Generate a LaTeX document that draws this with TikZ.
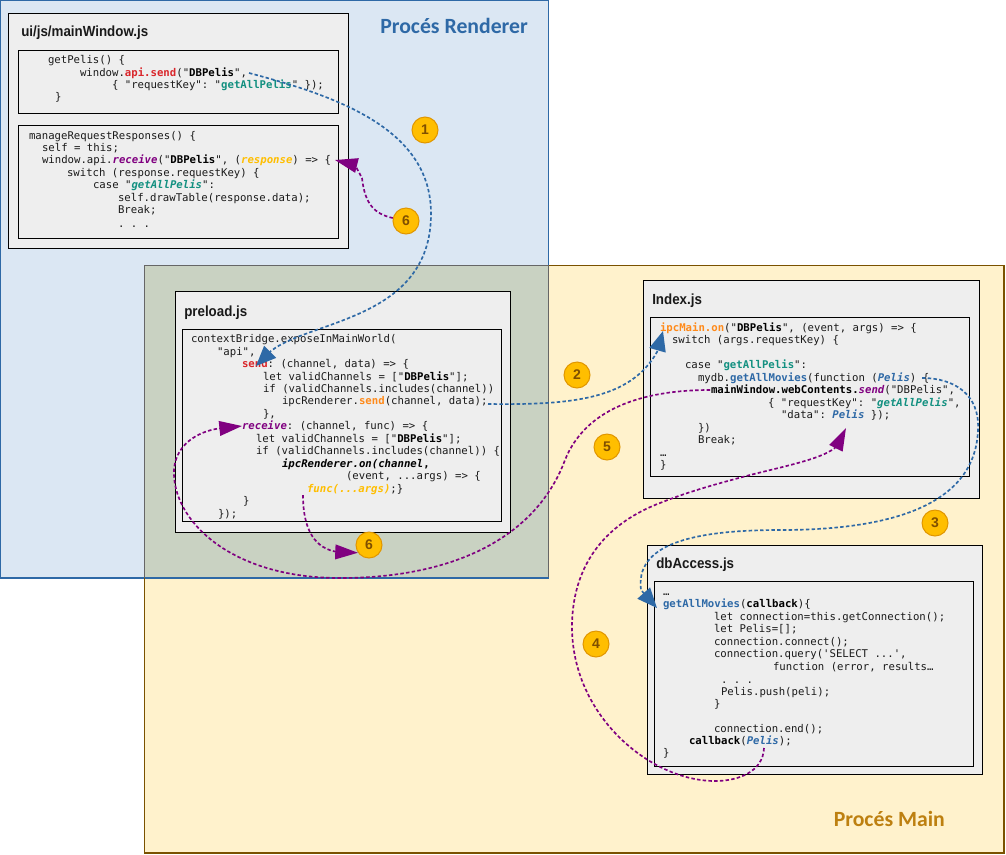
\documentclass[tikz,border=0pt]{standalone}
\usepackage{fontspec}
\usetikzlibrary{arrows.meta}
\setmonofont{DejaVu Sans Mono}
\setmainfont{Liberation Sans}
\newfontfamily\regionfont{Carlito}
\newfontfamily\titlefont[FakeStretch=0.91]{Liberation Sans}
\definecolor{cred}{HTML}{D9262B}
\definecolor{cteal}{HTML}{129080}
\definecolor{cpurp}{HTML}{800080}
\definecolor{corng}{HTML}{FF8A1A}
\definecolor{cyell}{HTML}{FFBE00}
\definecolor{cblue}{HTML}{2E69A6}
\definecolor{codetxt}{HTML}{1A1A1A}
\definecolor{rfill}{HTML}{DBE7F3}
\definecolor{mfill}{HTML}{FFF2CC}
\definecolor{ofill}{HTML}{C9D2C2}
\definecolor{mline}{HTML}{7A5200}
\definecolor{mtext}{HTML}{BD8010}
\definecolor{bline}{HTML}{E09600}
\definecolor{btext}{HTML}{7F4F00}
\definecolor{boxfill}{HTML}{EEEEEE}
\newcommand{\kR}[1]{{\bfseries\color{cred}#1}}
\newcommand{\kT}[1]{{\bfseries\color{cteal}#1}}
\newcommand{\kTi}[1]{{\bfseries\itshape\color{cteal}#1}}
\newcommand{\kP}[1]{{\bfseries\itshape\color{cpurp}#1}}
\newcommand{\kO}[1]{{\bfseries\color{corng}#1}}
\newcommand{\kY}[1]{{\bfseries\itshape\color{cyell}#1}}
\newcommand{\kB}[1]{{\bfseries\color{cblue}#1}}
\newcommand{\kBi}[1]{{\bfseries\itshape\color{cblue}#1}}
\newcommand{\kK}[1]{{\bfseries\color{black}#1}}
\newcommand{\kKi}[1]{{\bfseries\itshape\color{black}#1}}
\newcommand{\cl}[4]{\node[codeline] (#1) at ({#2},{#3+3.6}) {#4};}
\pgfdeclarelayer{top}
\pgfsetlayers{main,top}
\tikzset{
  x=0.75pt,y=-0.75pt,
  codeline/.style={anchor=base west,inner sep=0pt,outer sep=0pt,text=codetxt,font=\ttfamily\fontsize{8}{10}\selectfont},
  filetitle/.style={anchor=base west,inner sep=0pt,text=black!90,font=\titlefont\bfseries\fontsize{11}{12}\selectfont},
  regiontitle/.style={anchor=base west,inner sep=0pt,font=\regionfont\bfseries\fontsize{16.3}{18}\selectfont},
  filebox/.style={draw=black,fill=boxfill,line width=0.75pt},
  badge/.style={circle,draw=bline,fill=cyell,line width=0.75pt,minimum size=19.5pt,inner sep=0pt,text=btext,font=\rmfamily\bfseries\fontsize{10.5}{12}\selectfont},
  flowblue/.style={draw=cblue,line width=1.25pt,dash pattern=on 2.6pt off 1.7pt,-{Triangle[length=15pt,width=12.5pt,fill=cblue]}},
  flowpurp/.style={draw=cpurp,line width=1.25pt,dash pattern=on 2.6pt off 1.7pt,-{Triangle[length=17pt,width=11pt,fill=cpurp]}},
}
\begin{document}
\begin{tikzpicture}
\useasboundingbox (0,0) rectangle (1006,854);
% regions
\path[draw=cblue,fill=rfill,line width=0.8pt] (0.5,0.5) rectangle (548.5,578);
\path[draw=mline,fill=mfill,line width=0.8pt] (144.5,265.5) rectangle (1004,853);
\path[fill=ofill,draw=none] (144.5,265.5) rectangle (548.5,578);
\draw[draw=gray!80!black,line width=0.8pt] (144.5,578) -- (144.5,265.5) -- (548.5,265.5) -- (548.5,578);
\draw[draw=cblue,line width=0.8pt] (144.5,578) -- (548.5,578);
\node[regiontitle,text=cblue] (rtitle) at (380,33) {Procés Renderer};
\node[regiontitle,text=mtext] (mtitle) at (833.5,826) {Procés Main};
% mainWindow
\path[filebox] (8.5,13.5) rectangle (348.5,248.5);
\path[filebox] (18.5,50.5) rectangle (338.5,113.5);
\path[filebox] (18.5,125.5) rectangle (338.5,238);
\node[filetitle] (t1) at (21,36) {ui/js/mainWindow.js};
\cl{a1}{48}{60}{getPelis() \{}
\cl{a2}{80}{73}{window.\kR{api.send}("\kK{DBPelis}",}
\cl{a3}{112}{85}{\{ "requestKey": "\kT{getAllPelis}" \});}
\cl{a4}{55}{97}{\}}
\cl{b1}{29}{136}{manageRequestResponses() \{}
\cl{b2}{42}{148}{self = this;}
\cl{b3}{42}{160}{window.api.\kP{receive}("\kK{DBPelis}", (\kY{response}) => \{}
\cl{b4}{67}{173}{switch (response.requestKey) \{}
\cl{b5}{93}{185}{case "\kTi{getAllPelis}":}
\cl{b6}{118}{198}{self.drawTable(response.data);}
\cl{b7}{118}{210}{Break;}
\cl{b8}{118}{224}{. . .}
% preload
\path[filebox] (175.5,291.5) rectangle (510.5,532);
\path[filebox] (182.5,329.5) rectangle (501,521);
\node[filetitle] (t2) at (184,316) {preload.js};
\cl{c1}{191}{339}{contextBridge.exposeInMainWorld(}
\cl{c2}{217}{352}{"api",}
\cl{c3}{242}{364}{\kR{send}: (channel, data) => \{}
\cl{c4}{263}{377}{let validChannels = ["\kK{DBPelis}"];}
\cl{c5}{263}{389}{if (validChannels.includes(channel))}
\cl{c6}{282}{401}{ipcRenderer.\kO{send}(channel, data);}
\cl{c7}{263}{414}{\},}
\cl{c8}{242}{426}{\kP{receive}: (channel, func) => \{}
\cl{c9}{256}{439}{let validChannels = ["\kK{DBPelis}"];}
\cl{c10}{256}{451}{if (validChannels.includes(channel)) \{}
\cl{c11}{282}{464}{\kKi{ipcRenderer.on(channel}\kK{,}}
\cl{c12}{346}{476}{(event, ...args) => \{}
\cl{c13}{307}{489}{\kY{func(...args)};\}}
\cl{c14}{243}{501}{\}}
\cl{c15}{218}{514}{\});}
% index
\path[filebox] (643.5,280.5) rectangle (979,498);
\path[filebox] (650.5,317.5) rectangle (969.5,476);
\node[filetitle] (t3) at (652,304) {Index.js};
\cl{d1}{660}{328}{\kO{ipcMain.on}("\kK{DBPelis}", (event, args) => \{}
\cl{d2}{672}{340}{switch (args.requestKey) \{}
\cl{d3}{685}{365}{case "\kT{getAllPelis}":}
\cl{d4}{698}{378}{mydb.\kB{getAllMovies}(function (\kBi{Pelis}) \{}
\cl{d5}{711}{390}{\kK{mainWindow.webContents.}\kP{send}("DBPelis",}
\cl{d6}{768}{403}{\{ "requestKey": "\kTi{getAllPelis}",}
\cl{d7}{781}{415}{"data": \kBi{Pelis} \});}
\cl{d8}{698}{428}{\})}
\cl{d9}{698}{440}{Break;}
\cl{d10}{660}{453}{…}
\cl{d11}{660}{465}{\}}
% dbAccess
\path[filebox] (647.5,545.5) rectangle (982,774);
\path[filebox] (654.5,581.5) rectangle (973,766);
\node[filetitle] (t4) at (656,568) {dbAccess.js};
\cl{e1}{663}{592}{…}
\cl{e2}{663}{604}{\kB{getAllMovies}(\kK{callback})\{}
\cl{e3}{714}{617}{let connection=this.getConnection();}
\cl{e4}{714}{629}{let Pelis=[];}
\cl{e5}{714}{642}{connection.connect();}
\cl{e6}{714}{654}{connection.query('SELECT ...',}
\cl{e7}{773}{667}{function (error, results…}
\cl{e8}{721}{680}{. . .}
\cl{e9}{721}{692}{Pelis.push(peli);}
\cl{e10}{714}{704}{\}}
\cl{e11}{714}{729}{connection.end();}
\cl{e12}{689}{741}{\kK{callback}(\kBi{Pelis});}
\cl{e13}{663}{753}{\}}
% badges, on a layer above the connectors
\begin{pgfonlayer}{top}
\node[badge] (n1) at (425,130) {1};
\node[badge] (n6a) at (406,221) {6};
\node[badge] (n6b) at (369,545) {6};
\node[badge] (n2) at (577,375) {2};
\node[badge] (n5) at (607,447) {5};
\node[badge] (n3) at (935,523) {3};
\node[badge] (n4) at (596,644) {4};
\end{pgfonlayer}
% connector ends
\coordinate (s1) at (249,73);
\coordinate (e1tip) at (256,366);
\coordinate (s2) at (488,404);
\coordinate (e2tip) at (663,331);
\coordinate (s3) at (922,378);
\coordinate (e3tip) at (657,608);
\coordinate (s4) at (764,748);
\coordinate (e4tip) at (846,428);
\coordinate (s5) at (710,390);
\coordinate (e5tip) at (242,426);
\coordinate (s6) at (303,495);
\coordinate (e6tip) at (335,160);
% connectors
\draw[flowblue] (s1) .. controls (340,97) and (432,130) .. (431,215) .. controls (430,320) and (310,320) .. (271,351) -- (e1tip);
\draw[flowblue] (s2) .. controls (570,405) and (630,400) .. (657,352) -- (e2tip);
\draw[flowblue] (s3) .. controls (955,378) and (980,395) .. (978,430) .. controls (975,510) and (880,530) .. (780,530) .. controls (690,530) and (635,545) .. (641,590) -- (e3tip);
\draw[flowpurp] (s4) .. controls (763,772) and (738,781) .. (715,781) .. controls (650,781) and (571,715) .. (572,625) .. controls (573,560) and (610,522) .. (660,503) .. controls (690,491) and (720,483) .. (750,475) .. controls (790,465) and (825,458) .. (837,446) -- (e4tip);
\draw[flowpurp] (s5) .. controls (640,390) and (585,410) .. (565,460) .. controls (535,540) and (450,578) .. (340,578) .. controls (230,578) and (172,520) .. (174,470) .. controls (176,440) and (205,430) .. (e5tip);
\draw[flowpurp] (s6) .. controls (303,530) and (315,549) .. (338,552) -- (n6b.215);
\draw[flowpurp] (n6a) .. controls (375,214) and (365,205) .. (362,178) -- (355,165) -- (e6tip);
\end{tikzpicture}
\end{document}
